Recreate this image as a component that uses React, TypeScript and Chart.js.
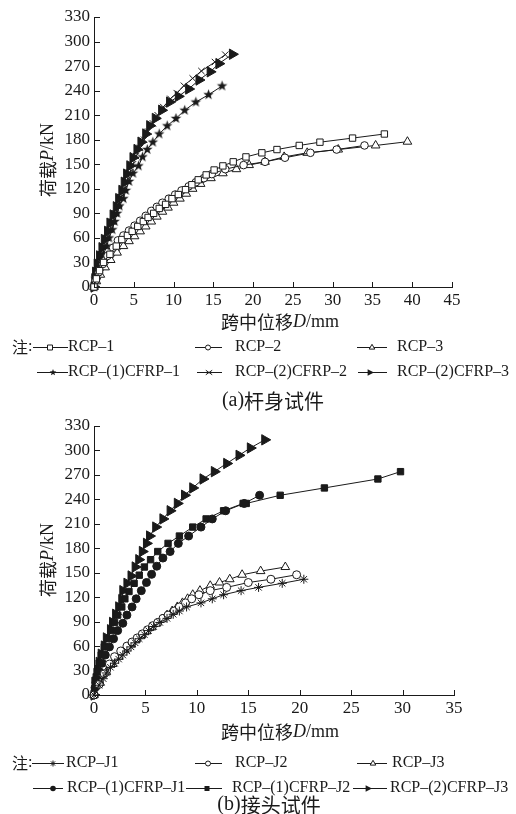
import React, { useEffect, useRef } from 'react';
import { Chart, registerables } from 'chart.js';

Chart.register(...registerables);

const INK = '#1a1a1a';
const SERIF = '"Liberation Serif", "Times New Roman", serif';
const CJK = '"Noto Sans CJK SC", "Noto Sans", sans-serif';

// ---------- Panel (a) data ----------
const A_X_TICKS_MAX = 45;
const Y_MAX = 330;

const A_RCP1_X = [0, 0.3, 0.7, 1.2, 2.0, 2.8, 3.5, 4.2, 4.8, 5.5, 6.2, 6.8, 7.5, 8.2, 9.0, 9.8, 10.6, 11.5, 12.3, 13.1, 14.1, 15.1, 16.2, 17.5, 19.1, 21.1, 23.0, 25.8, 28.4, 32.5, 36.5];
const A_RCP1_Y = [0, 10, 20, 30, 40, 50, 58, 63, 68, 74, 80, 85, 90, 96, 101, 108, 113, 119, 125, 131, 137, 143, 148, 153, 159, 164, 168, 173, 177, 182, 187];

const A_RCP2_X = [0, 0.2, 0.6, 1.1, 1.7, 2.4, 3.0, 3.7, 4.4, 5.1, 5.8, 6.5, 7.2, 7.9, 8.6, 9.4, 10.2, 11.0, 11.9, 12.8, 13.8, 14.8, 16.5, 18.8, 21.5, 24.0, 27.2, 30.5, 34.0];
const A_RCP2_Y = [0, 8, 18, 28, 38, 48, 57, 63, 69, 75, 81, 87, 93, 98, 103, 108, 113, 118, 123, 128, 133, 138, 144, 149, 153, 158, 164, 168, 173];

const A_RCP3_X = [0, 0.3, 0.8, 1.4, 2.1, 2.9, 3.7, 4.4, 5.1, 5.8, 6.5, 7.2, 7.9, 8.6, 9.3, 10.0, 10.8, 11.6, 12.4, 13.4, 14.7, 16.2, 17.9, 19.5, 21.5, 23.9, 26.8, 30.7, 35.4, 39.4];
const A_RCP3_Y = [0, 7, 15, 24, 33, 42, 50, 56, 62, 68, 74, 80, 86, 92, 97, 103, 108, 114, 120, 126, 133, 139, 144, 149, 153, 159, 164, 168, 173, 177.6];

const A_C1_X = [0, 0.2, 0.5, 0.8, 1.2, 1.6, 1.9, 2.3, 2.6, 2.9, 3.2, 3.7, 4.0, 4.4, 4.9, 5.6, 6.1, 6.7, 7.4, 8.2, 9.2, 10.3, 11.4, 12.8, 14.4, 16.1];
const A_C1_Y = [0, 10, 20, 30, 40, 50, 60, 70, 80, 90, 99, 108, 118, 129, 139, 148, 159, 168, 177, 187, 197, 206, 216, 226, 235, 245.7];

const A_C2_X = [0, 0.15, 0.35, 0.6, 0.9, 1.2, 1.6, 2.0, 2.3, 2.7, 3.0, 3.4, 3.8, 4.1, 4.5, 4.9, 5.3, 5.8, 6.3, 6.8, 7.4, 8.0, 8.7, 9.6, 10.4, 11.3, 12.4, 13.5, 15.2, 16.5];
const A_C2_Y = [0, 10, 20, 30, 40, 50, 60, 70, 80, 90, 100, 110, 120, 130, 140, 150, 160, 170, 180, 190, 200, 210, 220, 230, 237, 246, 255, 264, 275, 284];

const A_C3_X = [0, 0.1, 0.2, 0.4, 0.7, 1.0, 1.3, 1.7, 2.0, 2.4, 2.8, 3.1, 3.5, 3.8, 4.1, 4.5, 4.9, 5.4, 5.9, 6.5, 7.0, 7.7, 8.5, 9.5, 10.6, 11.9, 13.2, 14.6, 15.7, 17.4];
const A_C3_Y = [0, 10, 18, 28, 38, 48, 58, 68, 78, 88, 98, 108, 118, 128, 138, 148, 158, 168, 177, 187, 197, 206, 216, 226, 233, 242, 253, 263, 273, 284.5];

// ---------- Panel (b) data ----------
const B_X_TICKS_MAX = 35;

const B_J1_X = [0, 0.5, 0.9, 1.2, 1.6, 2.0, 2.4, 2.8, 3.2, 3.6, 4.0, 4.4, 4.9, 5.3, 5.8, 6.4, 7.1, 7.7, 8.3, 9.0, 10.4, 11.5, 12.6, 14.3, 16.0, 18.3, 20.4];
const B_J1_Y = [0, 12, 20, 27, 34, 39, 44, 49, 54, 59, 64, 69, 74, 79, 84, 89, 94, 99, 103, 108, 113, 118, 123, 128, 132, 137, 142];

const B_J2_X = [0, 0.5, 1.0, 1.5, 2.0, 2.6, 3.2, 3.7, 4.2, 4.7, 5.2, 5.7, 6.2, 6.7, 7.2, 7.8, 8.3, 8.9, 9.5, 10.2, 11.3, 12.9, 15.0, 17.2, 19.7];
const B_J2_Y = [0, 13, 26, 38, 47, 54, 60, 65, 70, 75, 80, 85, 89, 94, 98, 103, 108, 113, 118, 123, 128, 132, 138, 142, 147.5];

const B_J3_X = [0, 0.6, 1.2, 1.8, 2.4, 3.0, 3.6, 4.1, 4.6, 5.1, 5.6, 6.1, 6.6, 7.1, 7.6, 8.1, 8.6, 9.1, 9.6, 10.3, 11.3, 12.2, 13.2, 14.4, 16.2, 18.6];
const B_J3_Y = [0, 15, 28, 38, 47, 55, 62, 68, 73, 78, 83, 88, 93, 98, 103, 108, 113, 118, 123, 128, 134, 138, 142, 147.5, 152, 157];

const B_CJ1_X = [0, 0.1, 0.3, 0.5, 0.8, 1.1, 1.5, 1.9, 2.3, 2.8, 3.2, 3.7, 4.1, 4.6, 5.1, 5.6, 6.1, 6.7, 7.4, 8.2, 9.2, 10.4, 11.5, 12.8, 14.6, 16.1];
const B_CJ1_Y = [0, 9, 19, 29, 39, 49, 59, 69, 79, 88, 98, 108, 118, 128, 138, 148, 158, 168, 176, 186, 195, 206, 216, 226, 235, 245];

const B_CJ2_X = [0, 0.1, 0.3, 0.5, 0.7, 1.0, 1.3, 1.7, 2.0, 2.3, 2.7, 3.0, 3.4, 3.9, 4.4, 4.9, 5.5, 6.2, 7.2, 8.3, 9.6, 10.9, 12.6, 14.5, 14.8, 18.1, 22.4, 27.6, 29.8];
const B_CJ2_Y = [0, 18, 29, 39, 49, 59, 69, 79, 89, 98, 108, 118, 127, 137, 147, 157, 166, 176, 186, 195, 206, 216, 226, 235, 235, 245, 254, 265, 274];

const B_CJ3_X = [0, 0.1, 0.2, 0.4, 0.5, 0.7, 1.0, 1.2, 1.6, 1.8, 2.1, 2.4, 2.7, 2.8, 3.2, 3.6, 4.0, 4.35, 4.7, 5.1, 5.4, 6.0, 6.7, 7.4, 8.1, 8.8, 9.6, 10.6, 11.7, 12.9, 14.1, 15.2, 16.6];
const B_CJ3_Y = [0, 10, 20, 30, 40, 50, 60, 70, 80, 89, 99, 108, 117, 128, 137, 146, 157, 166, 176, 186, 195, 206, 216, 226, 235, 245, 254, 265, 274, 284, 294, 303, 313];

const A_LABELS = ['RCP–1', 'RCP–2', 'RCP–3', 'RCP–(1)CFRP–1', 'RCP–(2)CFRP–2', 'RCP–(2)CFRP–3'];
const B_LABELS = ['RCP–J1', 'RCP–J2', 'RCP–J3', 'RCP–(1)CFRP–J1', 'RCP–(1)CFRP–J2', 'RCP–(2)CFRP–J3'];

type Kind = 'rectOpen' | 'circleOpen' | 'triOpen' | 'star5' | 'cross' | 'asterisk' | 'rtri' | 'dot' | 'square';

function pts(xs: number[], ys: number[]) {
  return xs.map((x, i) => ({ x, y: ys[i] }));
}

function starPath(ctx: CanvasRenderingContext2D, cx: number, cy: number, r: number) {
  ctx.beginPath();
  for (let i = 0; i < 10; i++) {
    const a = -Math.PI / 2 + (i * Math.PI) / 5;
    const rr = i % 2 === 0 ? r : r * 0.42;
    const px = cx + rr * Math.cos(a);
    const py = cy + rr * Math.sin(a);
    if (i === 0) ctx.moveTo(px, py);
    else ctx.lineTo(px, py);
  }
  ctx.closePath();
}

function makeStar(r: number) {
  const c = document.createElement('canvas');
  const s = Math.ceil(r * 2 + 2);
  c.width = s;
  c.height = s;
  const ctx = c.getContext('2d')!;
  ctx.fillStyle = INK;
  starPath(ctx, s / 2, s / 2, r);
  ctx.fill();
  return c;
}

function drawMarker(ctx: CanvasRenderingContext2D, kind: Kind, x: number, y: number, r: number) {
  ctx.save();
  ctx.fillStyle = INK;
  ctx.strokeStyle = INK;
  ctx.lineWidth = 1;
  ctx.beginPath();
  switch (kind) {
    case 'rectOpen':
      ctx.fillStyle = '#fff';
      ctx.rect(x - r, y - r, 2 * r, 2 * r);
      ctx.fill();
      ctx.stroke();
      break;
    case 'circleOpen':
      ctx.fillStyle = '#fff';
      ctx.arc(x, y, r, 0, Math.PI * 2);
      ctx.fill();
      ctx.stroke();
      break;
    case 'triOpen':
      ctx.fillStyle = '#fff';
      ctx.moveTo(x, y - r);
      ctx.lineTo(x + r * 0.87, y + r * 0.5);
      ctx.lineTo(x - r * 0.87, y + r * 0.5);
      ctx.closePath();
      ctx.fill();
      ctx.stroke();
      break;
    case 'star5':
      starPath(ctx, x, y, r);
      ctx.fill();
      break;
    case 'cross':
      ctx.moveTo(x - r, y - r * 0.7);
      ctx.lineTo(x + r, y + r * 0.7);
      ctx.moveTo(x - r, y + r * 0.7);
      ctx.lineTo(x + r, y - r * 0.7);
      ctx.stroke();
      break;
    case 'asterisk':
      ctx.moveTo(x - r, y);
      ctx.lineTo(x + r, y);
      ctx.moveTo(x, y - r);
      ctx.lineTo(x, y + r);
      ctx.moveTo(x - r * 0.7, y - r * 0.7);
      ctx.lineTo(x + r * 0.7, y + r * 0.7);
      ctx.moveTo(x - r * 0.7, y + r * 0.7);
      ctx.lineTo(x + r * 0.7, y - r * 0.7);
      ctx.stroke();
      break;
    case 'rtri':
      ctx.moveTo(x + r, y);
      ctx.lineTo(x - r * 0.6, y - r * 0.8);
      ctx.lineTo(x - r * 0.6, y + r * 0.8);
      ctx.closePath();
      ctx.fill();
      break;
    case 'dot':
      ctx.arc(x, y, r, 0, Math.PI * 2);
      ctx.fill();
      break;
    case 'square':
      ctx.rect(x - r, y - r, 2 * r, 2 * r);
      ctx.fill();
      break;
  }
  ctx.restore();
}

function drawRuns(ctx: CanvasRenderingContext2D, runs: [string, string][], x: number, y: number, align: 'left' | 'center') {
  ctx.textBaseline = 'middle';
  ctx.textAlign = 'left';
  let total = 0;
  runs.forEach(([t, f]) => {
    ctx.font = f;
    total += ctx.measureText(t).width;
  });
  let cx = align === 'center' ? x - total / 2 : x;
  runs.forEach(([t, f]) => {
    ctx.font = f;
    ctx.fillText(t, cx, y);
    cx += ctx.measureText(t).width;
  });
}

type LegendItem = { x1: number; x2: number; xm: number; tx: number; label: string; kind: Kind; r: number };

type PanelSpec = {
  height: number;
  area: { left: number; right: number; top: number; bottom: number };
  xMax: number;
  datasets: any[];
  xTitleX: number;
  xTitleY: number;
  yTitleX: number;
  yTitleY: number;
  noteY: number[];
  rows: LegendItem[][];
  caption: [string, string];
  captionX: number;
  captionY: number;
};

const X_AXIS_H = 22;
const TICK_FONT = 17;

function Panel({ spec, top }: { spec: PanelSpec; top: number }) {
  const ref = useRef<HTMLCanvasElement | null>(null);
  useEffect(() => {
    const canvas = ref.current!;
    const deco = {
      id: 'deco',
      afterDraw(chart: any) {
        const ctx: CanvasRenderingContext2D = chart.ctx;
        const ca = chart.chartArea;
        const xs = chart.scales.x;
        const ys = chart.scales.y;
        ctx.save();
        ctx.strokeStyle = INK;
        ctx.lineWidth = 1;
        ys.ticks.forEach((t: any) => {
          const py = Math.round(ys.getPixelForValue(t.value)) + 0.5;
          ctx.beginPath();
          ctx.moveTo(ca.left, py);
          ctx.lineTo(ca.left + 6, py);
          ctx.stroke();
        });
        xs.ticks.forEach((t: any) => {
          const px = Math.round(xs.getPixelForValue(t.value)) + 0.5;
          ctx.beginPath();
          ctx.moveTo(px, ca.bottom);
          ctx.lineTo(px, ca.bottom - 5);
          ctx.stroke();
        });
        ctx.fillStyle = INK;
        // x title
        drawRuns(ctx, [['跨中位移', `18px ${CJK}`], ['D', `italic 18px ${SERIF}`], ['/mm', `18px ${SERIF}`]], spec.xTitleX, spec.xTitleY, 'center');
        // y title
        ctx.save();
        ctx.translate(spec.yTitleX, spec.yTitleY);
        ctx.rotate(-Math.PI / 2);
        drawRuns(ctx, [['荷载', `18px ${CJK}`], ['P', `italic 18px ${SERIF}`], ['/kN', `18px ${SERIF}`]], 0, 0, 'center');
        ctx.restore();
        // legend
        drawRuns(ctx, [['注', `16px ${CJK}`], [':', `16px ${SERIF}`]], 12, spec.noteY[0], 'left');
        spec.rows.forEach((row, ri) => {
          const y = spec.noteY[ri];
          row.forEach((it) => {
            ctx.beginPath();
            ctx.moveTo(it.x1, Math.round(y) + 0.5);
            ctx.lineTo(it.x2, Math.round(y) + 0.5);
            ctx.stroke();
            drawMarker(ctx, it.kind, it.xm, Math.round(y) + 0.5, it.r);
            ctx.fillStyle = INK;
            drawRuns(ctx, [[it.label, `16px ${SERIF}`]], it.tx, y, 'left');
          });
        });
        // caption
        drawRuns(ctx, [[spec.caption[0], `20px ${SERIF}`], [spec.caption[1], `20px ${CJK}`]], spec.captionX, spec.captionY, 'center');
        ctx.restore();
      },
    };
    const chart = new Chart(canvas, {
      type: 'scatter',
      data: { datasets: spec.datasets },
      options: {
        animation: false,
        responsive: false,
        events: [],
        layout: {
          padding: {
            left: 0,
            top: spec.area.top,
            right: 516 - spec.area.right,
            bottom: spec.height - spec.area.bottom - X_AXIS_H,
          },
        },
        plugins: { legend: { display: false }, tooltip: { enabled: false } },
        scales: {
          x: {
            type: 'linear',
            min: 0,
            max: spec.xMax,
            afterFit: (s: any) => {
              s.height = X_AXIS_H;
            },
            grid: { display: false, drawTicks: false },
            border: { display: true, color: INK, width: 1 },
            ticks: {
              stepSize: 5,
              autoSkip: false,
              maxRotation: 0,
              padding: 3,
              color: INK,
              font: { family: SERIF, size: TICK_FONT },
            },
          },
          y: {
            type: 'linear',
            min: 0,
            max: Y_MAX,
            afterFit: (s: any) => {
              s.width = spec.area.left;
            },
            grid: { display: false, drawTicks: false },
            border: { display: true, color: INK, width: 1 },
            ticks: {
              stepSize: 30,
              autoSkip: false,
              padding: 4,
              color: INK,
              font: { family: SERIF, size: TICK_FONT },
            },
          },
        },
      },
      plugins: [deco],
    } as any);
    return () => chart.destroy();
  }, [spec]);
  return (
    <canvas
      ref={ref}
      width={516}
      height={spec.height}
      style={{ position: 'absolute', left: 0, top, width: 516, height: spec.height, display: 'block' }}
    />
  );
}

function ds(label: string, xs: number[], ys: number[], style: any, radius: number, fill: string, rotation = 0) {
  return {
    label,
    data: pts(xs, ys),
    showLine: true,
    borderColor: INK,
    borderWidth: 1,
    pointStyle: style,
    pointRadius: radius,
    pointRotation: rotation,
    pointBackgroundColor: fill,
    pointBorderColor: INK,
    pointBorderWidth: 1,
    tension: 0,
    clip: false,
  };
}

export default function App() {
  const specs = React.useMemo(() => {
    const star = makeStar(5.5);
    const a: PanelSpec = {
      height: 416,
      area: { left: 94, right: 452, top: 17, bottom: 287 },
      xMax: A_X_TICKS_MAX,
      datasets: [
        ds(A_LABELS[0], A_RCP1_X, A_RCP1_Y, 'rect', 4.5, '#fff'),
        ds(A_LABELS[1], A_RCP2_X, A_RCP2_Y, 'circle', 3.8, '#fff'),
        ds(A_LABELS[2], A_RCP3_X, A_RCP3_Y, 'triangle', 5, '#fff'),
        ds(A_LABELS[3], A_C1_X, A_C1_Y, star, 5.5, INK),
        ds(A_LABELS[4], A_C2_X, A_C2_Y, 'crossRot', 4.5, INK),
        ds(A_LABELS[5], A_C3_X, A_C3_Y, 'triangle', 6, INK, 90),
      ],
      xTitleX: 280,
      xTitleY: 322,
      yTitleX: 48,
      yTitleY: 160,
      noteY: [347, 372],
      rows: [
        [
          { x1: 33, x2: 68, xm: 50, tx: 68, label: A_LABELS[0], kind: 'rectOpen', r: 2.5 },
          { x1: 195, x2: 222, xm: 208, tx: 235, label: A_LABELS[1], kind: 'circleOpen', r: 2.5 },
          { x1: 357, x2: 387, xm: 372, tx: 397, label: A_LABELS[2], kind: 'triOpen', r: 3.2 },
        ],
        [
          { x1: 37, x2: 68, xm: 53, tx: 68, label: A_LABELS[3], kind: 'star5', r: 3.5 },
          { x1: 197, x2: 222, xm: 209, tx: 235, label: A_LABELS[4], kind: 'cross', r: 3.2 },
          { x1: 358, x2: 387, xm: 370, tx: 397, label: A_LABELS[5], kind: 'rtri', r: 4 },
        ],
      ],
      caption: ['(a)', '杆身试件'],
      captionX: 273,
      captionY: 401,
    };
    const b: PanelSpec = {
      height: 409,
      area: { left: 94, right: 454, top: 21, bottom: 290 },
      xMax: B_X_TICKS_MAX,
      datasets: [
        ds(B_LABELS[0], B_J1_X, B_J1_Y, 'star', 4.5, INK),
        ds(B_LABELS[1], B_J2_X, B_J2_Y, 'circle', 4, '#fff'),
        ds(B_LABELS[2], B_J3_X, B_J3_Y, 'triangle', 5, '#fff'),
        ds(B_LABELS[3], B_CJ1_X, B_CJ1_Y, 'circle', 4, INK),
        ds(B_LABELS[4], B_CJ2_X, B_CJ2_Y, 'rect', 4.5, INK),
        ds(B_LABELS[5], B_CJ3_X, B_CJ3_Y, 'triangle', 6, INK, 90),
      ],
      xTitleX: 280,
      xTitleY: 327,
      yTitleX: 48,
      yTitleY: 155,
      noteY: [358, 383],
      rows: [
        [
          { x1: 32, x2: 64, xm: 53, tx: 66, label: B_LABELS[0], kind: 'asterisk', r: 3 },
          { x1: 195, x2: 222, xm: 208, tx: 235, label: B_LABELS[1], kind: 'circleOpen', r: 2.5 },
          { x1: 357, x2: 387, xm: 373, tx: 392, label: B_LABELS[2], kind: 'triOpen', r: 3.2 },
        ],
        [
          { x1: 33, x2: 63, xm: 53, tx: 67, label: B_LABELS[3], kind: 'dot', r: 2.8 },
          { x1: 186, x2: 222, xm: 207, tx: 232, label: B_LABELS[4], kind: 'square', r: 2.5 },
          { x1: 353, x2: 387, xm: 368, tx: 390, label: B_LABELS[5], kind: 'rtri', r: 4 },
        ],
      ],
      caption: ['(b)', '接头试件'],
      captionX: 269,
      captionY: 400,
    };
    return { a, b };
  }, []);

  return (
    <div style={{ position: 'absolute', left: 0, top: 0, width: 516, height: 814, background: '#fff' }}>
      <Panel spec={specs.a} top={0} />
      <Panel spec={specs.b} top={405} />
    </div>
  );
}
